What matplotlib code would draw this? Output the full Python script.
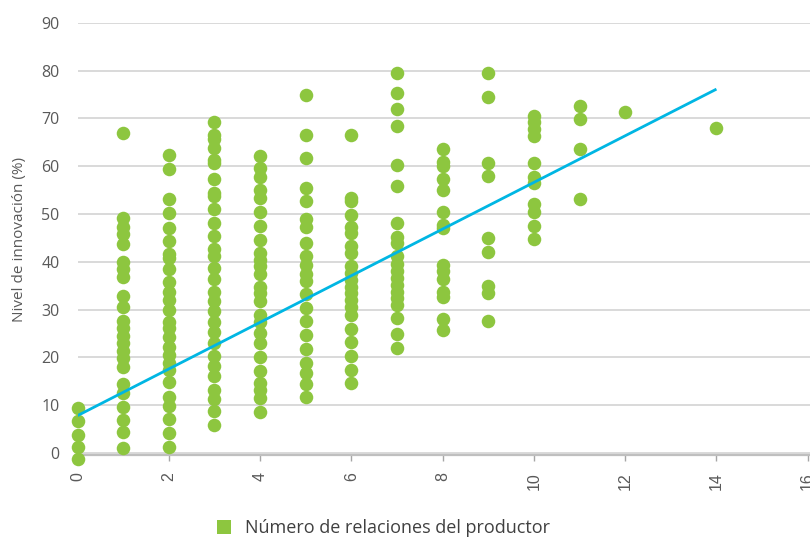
import matplotlib
matplotlib.use("Agg")
import matplotlib.pyplot as plt
from matplotlib.lines import Line2D

# Innovation level (%) of each producer, grouped by number of relations
relations = [0, 1, 2, 3, 4, 5, 6, 7, 8, 9, 10, 11, 12, 14]
innovation = [
    [9.3, 6.6, 3.8, 1.3, -1.3],
    [67.0, 49.2, 47.2, 45.8, 43.7, 40.0, 38.5, 36.8, 32.8, 30.6, 27.7, 26.1,
     24.5, 23.0, 21.4, 19.8, 17.9, 14.4, 12.6, 9.7, 6.8, 4.3, 1.0],
    [62.3, 59.3, 53.1, 50.1, 47.1, 44.4, 41.6, 40.7, 38.4, 35.8, 33.7, 32.0,
     29.9, 27.3, 26.1, 24.2, 22.2, 20.5, 18.8, 17.4, 14.9, 11.8, 9.9, 7.1,
     4.1, 1.3],
    [69.2, 66.5, 65.6, 63.7, 61.3, 60.6, 57.2, 54.4, 53.8, 51.0, 48.0, 45.3,
     42.6, 41.1, 38.6, 36.3, 33.7, 31.7, 29.6, 27.3, 25.2, 23.0, 20.2, 18.1,
     16.0, 13.2, 11.2, 8.7, 5.9],
    [62.1, 59.5, 57.8, 54.9, 53.4, 50.5, 47.5, 44.6, 41.8, 40.4, 39.0, 37.4,
     34.7, 33.4, 31.7, 28.9, 27.3, 25.0, 23.0, 20.0, 17.2, 14.6, 13.2, 11.5,
     8.5],
    [74.8, 66.6, 61.6, 55.5, 52.6, 48.9, 47.2, 44.0, 41.1, 39.3, 37.5, 36.0,
     33.2, 30.3, 27.5, 24.7, 21.8, 18.9, 16.8, 14.5, 11.7],
    [66.6, 53.4, 52.6, 49.8, 47.3, 46.0, 43.3, 41.9, 39.1, 37.7, 36.2, 34.8,
     33.4, 32.0, 30.6, 28.9, 25.9, 23.1, 20.2, 17.4, 14.7],
    [79.4, 75.2, 71.9, 68.4, 60.3, 55.9, 48.2, 45.2, 43.9, 41.1, 39.5, 38.1,
     36.5, 35.1, 33.7, 32.4, 31.0, 28.3, 24.9, 22.0],
    [63.5, 60.9, 60.0, 57.4, 54.9, 50.5, 47.7, 47.0, 39.4, 38.1, 36.4, 33.6,
     32.6, 28.0, 25.8],
    [79.4, 74.4, 60.7, 57.9, 44.9, 42.1, 34.9, 33.4, 27.7],
    [70.4, 69.2, 67.8, 66.3, 60.6, 57.7, 56.4, 52.1, 50.5, 47.5, 44.7],
    [72.5, 69.8, 63.5, 53.1],
    [71.3],
    [68.0],
]

# Linear trend line end points
trend_x = [0, 14]
trend_y = [7.8, 76.1]

x_ticks = [0, 2, 4, 6, 8, 10, 12, 14, 16]
y_ticks = [0, 10, 20, 30, 40, 50, 60, 70, 80, 90]

GREEN = "#8dc63f"
BLUE = "#00b6e3"
GRID = "#d9d9d9"
TEXT = "#595959"
FONT = ["Open Sans", "DejaVu Sans"]

fig = plt.figure(figsize=(8.1, 5.4), dpi=100)
ax = fig.add_axes([77.5 / 810, 84.7 / 540, (810 - 77.5) / 810, (455.3 - 22.7) / 540])

xs, ys = [], []
for r, vals in zip(relations, innovation):
    xs.extend([r] * len(vals))
    ys.extend(vals)
ax.scatter(xs, ys, s=95, color=GREEN, linewidths=0, zorder=3, clip_on=False)
ax.plot(trend_x, trend_y, color=BLUE, lw=2.0, zorder=4, solid_capstyle="butt")

ax.set_xlim(0, 16.05)
ax.set_ylim(-0.5, 90)
ax.set_xticks(x_ticks)
ax.set_yticks(y_ticks)
ax.set_xticklabels([str(t) for t in x_ticks], rotation=90,
                   family="Liberation Sans", fontsize=11.5, color=TEXT)
ax.set_yticklabels([str(t) for t in y_ticks], family=FONT, fontsize=11.5, color=TEXT)

ax.grid(axis="y", color=GRID, lw=1.4, zorder=0)
ax.set_axisbelow(True)
for side in ("left", "right", "top"):
    ax.spines[side].set_visible(False)
ax.spines["bottom"].set_color("#bfbfbf")
ax.spines["bottom"].set_linewidth(1.6)
ax.tick_params(axis="x", length=4, width=1, color="#a6a6a6", pad=8)
ax.tick_params(axis="y", length=0, pad=13)

ax.set_ylabel("Nivel de innovación (%)", family=FONT, fontsize=11,
              color=TEXT)
ax.yaxis.set_label_coords(-0.069, 0.5)

handle = Line2D([], [], marker="s", linestyle="none", markersize=10,
                markerfacecolor=GREEN, markeredgewidth=0)
fig.legend([handle], ["Número de relaciones del productor"], loc="center",
           bbox_to_anchor=(378 / 810, 1 - 528 / 540), frameon=False,
           handletextpad=0.2, prop={"family": FONT, "size": 13},
           labelcolor="#404040")

fig.savefig("out.png", dpi=100)
